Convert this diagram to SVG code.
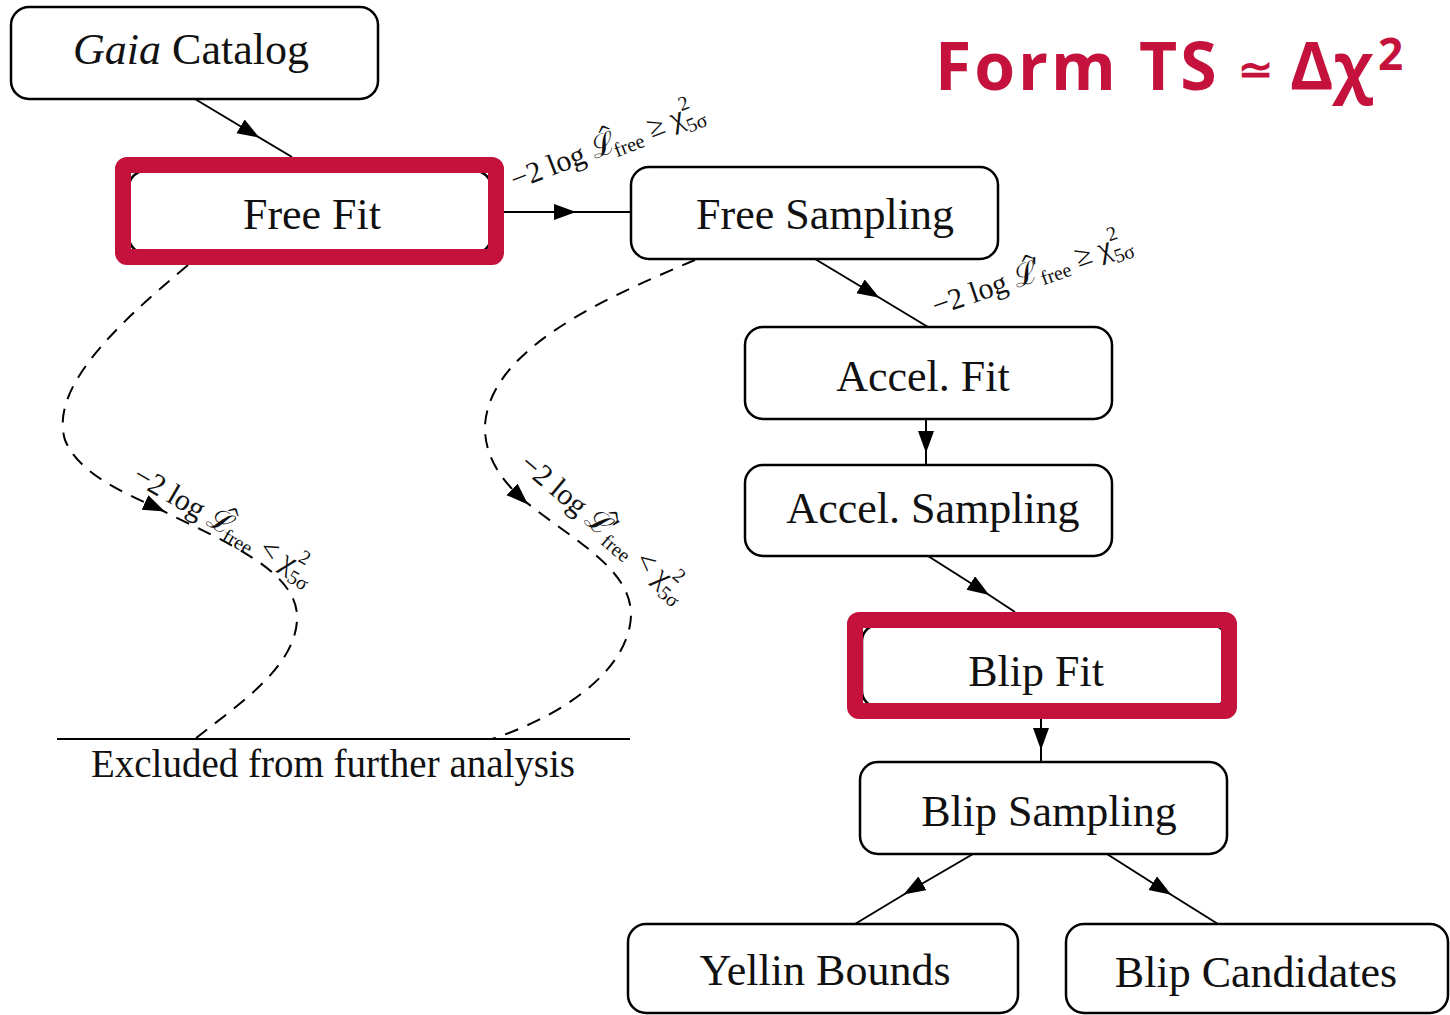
<svg xmlns="http://www.w3.org/2000/svg" width="1450" height="1015" viewBox="0 0 1450 1015">
<style>
.box{fill:#fff;stroke:#000;stroke-width:2.5}
.hl{fill:none;stroke:#C4123C;stroke-width:16}
.t{font-family:"Liberation Serif","DejaVu Serif",serif;font-size:44px;fill:#111;text-anchor:middle}
.m{font-family:"Liberation Serif","DejaVu Serif",serif;font-size:30px;fill:#111}
.s{font-size:20px}
.h{font-family:"DejaVu Serif",serif;font-size:20px}
.c{fill:none;stroke:#000;stroke-width:2}
.d{fill:none;stroke:#000;stroke-width:2;stroke-dasharray:14 10}
.title{font-family:"Open Sans","Noto Sans",sans-serif;font-weight:700;fill:#C4123C}
</style>
<defs>
<marker id="ah" markerUnits="userSpaceOnUse" markerWidth="24" markerHeight="18" refX="11" refY="8" orient="auto">
<path d="M0,0 L22,8 L0,16 z" fill="#000"/>
</marker>
<marker id="ahe" markerUnits="userSpaceOnUse" markerWidth="24" markerHeight="18" refX="11" refY="8" orient="auto">
<path d="M0,0 L22,8 L0,16 z" fill="#000"/>
</marker>
</defs>
<rect width="1450" height="1015" fill="#fff"/>

<g id="connectors">
<path class="c" marker-mid="url(#ah)" d="M195,99 L250,132 L292,157"/>
<path class="c" marker-mid="url(#ah)" d="M504,212 L565,212 L631,212"/>
<path class="c" marker-mid="url(#ah)" d="M815,259 L870,292 L928,327"/>
<path class="c" marker-mid="url(#ah)" d="M926,419 L926,442 L926,465"/>
<path class="c" marker-mid="url(#ah)" d="M928,556 L980,589 L1015,612"/>
<path class="c" marker-mid="url(#ah)" d="M1041,719 L1041,739 L1041,762"/>
<path class="c" marker-mid="url(#ah)" d="M973,854 L913,889 L855,924"/>
<path class="c" marker-mid="url(#ah)" d="M1107,854 L1162,889 L1218,924"/>
<path class="d" marker-end="url(#ahe)" d="M188,265 C110,330 50,390 65,440 C78,472 118,490 155,507"/>
<path class="d" d="M155,507 C220,540 300,570 297,620 C295,670 230,710 195,739"/>
<path class="d" marker-end="url(#ahe)" d="M695,260 C600,300 490,350 485,425 C484,455 500,478 520,497"/>
<path class="d" d="M520,497 C570,540 640,570 630,625 C620,680 550,720 492,739"/>
<path class="c" d="M57,739 L630,739"/>
</g>

<g id="labels">
<text class="m" transform="translate(515,190) rotate(-21)">−2 log ℒ<tspan class="h" dx="-14" dy="-14">^</tspan><tspan class="s" dx="-6" dy="20">free</tspan><tspan dx="8" dy="-6">≥ χ</tspan><tspan class="s" dy="-14">2</tspan><tspan class="s" dx="-10" dy="23">5σ</tspan></text>
<text class="m" transform="translate(936,316) rotate(-19)">−2 log ℒ<tspan class="h" dx="-14" dy="-14">^</tspan><tspan dx="-5" dy="10">′</tspan><tspan class="s" dx="-3" dy="10">free</tspan><tspan dx="8" dy="-6">≥ χ</tspan><tspan class="s" dy="-14">2</tspan><tspan class="s" dx="-10" dy="23">5σ</tspan></text>
<text class="m" transform="translate(131,481) rotate(30)">−2 log ℒ<tspan class="h" dx="-14" dy="-14">^</tspan><tspan class="s" dx="-6" dy="20">free</tspan><tspan dx="8" dy="-6">&lt; χ</tspan><tspan class="s" dy="-14">2</tspan><tspan class="s" dx="-10" dy="23">5σ</tspan></text>
<text class="m" transform="translate(518,467) rotate(40)">−2 log ℒ<tspan class="h" dx="-14" dy="-14">^</tspan><tspan dx="-5" dy="10">′</tspan><tspan class="s" dx="-3" dy="10">free</tspan><tspan dx="8" dy="-6">&lt; χ</tspan><tspan class="s" dy="-14">2</tspan><tspan class="s" dx="-10" dy="23">5σ</tspan></text>
<text class="t" x="333" y="777" style="font-size:39px">Excluded from further analysis</text>
</g>

<g id="gaia-catalog">
<rect class="box" x="11" y="7" width="367" height="92" rx="18"/>
<text class="t" x="191" y="64"><tspan font-style="italic">Gaia</tspan> Catalog</text>
</g>
<g id="free-fit">
<rect class="box" x="129" y="171" width="362" height="82" rx="16"/>
<rect class="hl" x="123" y="165" width="373" height="92" rx="4"/>
<text class="t" x="312" y="229">Free Fit</text>
</g>
<g id="free-sampling">
<rect class="box" x="631" y="167" width="367" height="92" rx="18"/>
<text class="t" x="825" y="229">Free Sampling</text>
</g>
<g id="accel-fit">
<rect class="box" x="745" y="327" width="367" height="92" rx="18"/>
<text class="t" x="923" y="391">Accel. Fit</text>
</g>
<g id="accel-sampling">
<rect class="box" x="745" y="465" width="367" height="91" rx="18"/>
<text class="t" x="933" y="523">Accel. Sampling</text>
</g>
<g id="blip-fit">
<rect class="box" x="862" y="625" width="365" height="82" rx="16"/>
<rect class="hl" x="855" y="620" width="374" height="91" rx="4"/>
<text class="t" x="1036" y="686">Blip Fit</text>
</g>
<g id="blip-sampling">
<rect class="box" x="860" y="762" width="367" height="92" rx="18"/>
<text class="t" x="1049" y="826">Blip Sampling</text>
</g>
<g id="yellin-bounds">
<rect class="box" x="628" y="924" width="390" height="89" rx="18"/>
<text class="t" x="825" y="985">Yellin Bounds</text>
</g>
<g id="blip-candidates">
<rect class="box" x="1066" y="924" width="382" height="89" rx="18"/>
<text class="t" x="1256" y="987">Blip Candidates</text>
</g>

<g id="title">
<text class="title" x="935" y="90" style="font-size:66px;letter-spacing:3px">Form TS</text>
<text class="title" x="1238" y="84" style="font-size:42px">≃</text>
<text class="title" x="1290" y="90" style="font-size:66px">Δχ</text>
<text class="title" x="1378" y="70" style="font-size:44px">2</text>
</g>
</svg>
